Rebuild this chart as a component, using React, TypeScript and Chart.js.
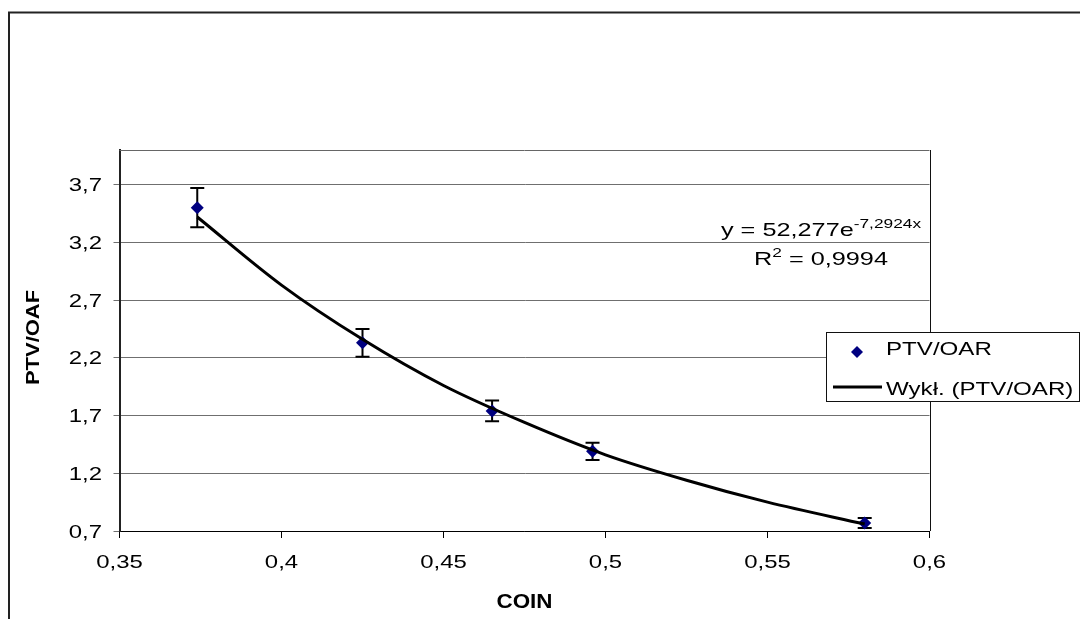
import React, { useEffect, useRef } from 'react';
import { Chart, registerables } from 'chart.js';

Chart.register(...registerables);

// ---- data ----
const pointX = [0.374, 0.425, 0.465, 0.496, 0.58];
const pointY = [3.5, 2.33, 1.74, 1.39, 0.77];
const errorY = [0.17, 0.12, 0.09, 0.075, 0.043];

const trendX = [0.374, 0.4, 0.425, 0.45, 0.475, 0.5, 0.525, 0.55, 0.58];
const trendY = [3.42, 2.83, 2.36, 1.96, 1.64, 1.36, 1.14, 0.95, 0.76];

const xTicks = [0.35, 0.4, 0.45, 0.5, 0.55, 0.6];
const yTicks = [0.7, 1.2, 1.7, 2.2, 2.7, 3.2, 3.7];

const seriesName = 'PTV/OAR';
const trendName = 'Wykł. (PTV/OAR)';
const xTitle = 'COIN';
const yTitle = 'PTV/OAF';
const eqMain = 'y = 52,277e';
const eqExp = '-7,2924x';
const r2Base = 'R';
const r2Sup = '2';
const r2Rest = ' = 0,9994';

const FAMILY = '"Liberation Sans", Arial, sans-serif';
const fmt = (v: number) => String(Math.round(v * 100) / 100).replace('.', ',');

function drawText(
  ctx: CanvasRenderingContext2D,
  s: string,
  x: number,
  y: number,
  font: string,
  align: CanvasTextAlign,
  sx: number,
  rot = 0
) {
  ctx.save();
  ctx.font = font;
  ctx.fillStyle = '#000';
  ctx.translate(x, y);
  if (rot) ctx.rotate(rot);
  ctx.scale(sx, 1);
  ctx.textAlign = align;
  ctx.textBaseline = 'alphabetic';
  ctx.fillText(s, 0, 0);
  ctx.restore();
}

function widthOf(ctx: CanvasRenderingContext2D, s: string, font: string, sx: number) {
  ctx.save();
  ctx.font = font;
  const w = ctx.measureText(s).width * sx;
  ctx.restore();
  return w;
}

const errorBarPlugin = {
  id: 'errorBars',
  beforeDatasetsDraw(chart: any) {
    const ctx = chart.ctx as CanvasRenderingContext2D;
    const xs = chart.scales.x;
    const ys = chart.scales.y;
    ctx.save();
    ctx.strokeStyle = '#000';
    ctx.lineWidth = 2;
    pointX.forEach((xv, i) => {
      const px = xs.getPixelForValue(xv);
      const top = ys.getPixelForValue(pointY[i] + errorY[i]);
      const bot = ys.getPixelForValue(pointY[i] - errorY[i]);
      ctx.beginPath();
      ctx.moveTo(px, top);
      ctx.lineTo(px, bot);
      ctx.moveTo(px - 7, top);
      ctx.lineTo(px + 7, top);
      ctx.moveTo(px - 7, bot);
      ctx.lineTo(px + 7, bot);
      ctx.stroke();
    });
    ctx.restore();
  },
};

const decorPlugin = {
  id: 'decor',
  afterDraw(chart: any) {
    const ctx = chart.ctx as CanvasRenderingContext2D;
    const area = chart.chartArea;
    const xs = chart.scales.x;
    const ys = chart.scales.y;

    // outer chart frame (partially visible)
    ctx.save();
    ctx.strokeStyle = '#222';
    ctx.lineWidth = 2;
    ctx.beginPath();
    ctx.moveTo(9, 1000);
    ctx.lineTo(9, 12.5);
    ctx.lineTo(1100, 12.5);
    ctx.stroke();
    ctx.restore();

    // plot area top / right border
    ctx.save();
    ctx.lineWidth = 1;
    ctx.strokeStyle = '#666';
    ctx.beginPath();
    ctx.moveTo(area.left, Math.round(area.top) + 0.5);
    ctx.lineTo(area.right, Math.round(area.top) + 0.5);
    ctx.stroke();
    ctx.strokeStyle = '#111';
    ctx.beginPath();
    ctx.moveTo(Math.round(area.right) + 0.5, area.top);
    ctx.lineTo(Math.round(area.right) + 0.5, area.bottom);
    ctx.stroke();
    ctx.restore();

    const tickFont = `18px ${FAMILY}`;
    // y tick labels
    yTicks.forEach((v) => {
      drawText(ctx, fmt(v), 102, ys.getPixelForValue(v) + 6.5, tickFont, 'right', 1.33);
    });
    // x tick labels
    xTicks.forEach((v) => {
      drawText(ctx, fmt(v), xs.getPixelForValue(v), 568, tickFont, 'center', 1.33);
    });

    // axis titles
    drawText(ctx, xTitle, (area.left + area.right) / 2, 608, `bold 20px ${FAMILY}`, 'center', 1.12);
    drawText(ctx, yTitle, 39, (area.top + area.bottom) / 2 - 3, `bold 18px ${FAMILY}`, 'center', 1.22, -Math.PI / 2);
    // the rotated text needs its baseline offset: redraw handled via translate below
    // (drawText rotates around the anchor; baseline offset applied in local y)

    // trendline equation
    const eqFont = `19px ${FAMILY}`;
    const supFont = `13px ${FAMILY}`;
    const sx = 1.33;
    const cx = 821;
    const w1 = widthOf(ctx, eqMain, eqFont, sx) + widthOf(ctx, eqExp, supFont, sx);
    let x1 = cx - w1 / 2;
    drawText(ctx, eqMain, x1, 236, eqFont, 'left', sx);
    x1 += widthOf(ctx, eqMain, eqFont, sx);
    drawText(ctx, eqExp, x1, 228, supFont, 'left', sx);

    const w2 =
      widthOf(ctx, r2Base, eqFont, sx) + widthOf(ctx, r2Sup, supFont, sx) + widthOf(ctx, r2Rest, eqFont, sx);
    let x2 = cx - w2 / 2;
    drawText(ctx, r2Base, x2, 265, eqFont, 'left', sx);
    x2 += widthOf(ctx, r2Base, eqFont, sx);
    drawText(ctx, r2Sup, x2, 257, supFont, 'left', sx);
    x2 += widthOf(ctx, r2Sup, supFont, sx);
    drawText(ctx, r2Rest, x2, 265, eqFont, 'left', sx);

    // legend
    ctx.save();
    ctx.fillStyle = '#fff';
    ctx.fillRect(826.5, 332.5, 253, 69);
    ctx.strokeStyle = '#111';
    ctx.lineWidth = 1;
    ctx.strokeRect(826.5, 332.5, 253, 69);
    // diamond marker
    ctx.fillStyle = '#000080';
    ctx.beginPath();
    ctx.moveTo(857, 346);
    ctx.lineTo(863, 352);
    ctx.lineTo(857, 358);
    ctx.lineTo(851, 352);
    ctx.closePath();
    ctx.fill();
    // line sample
    ctx.strokeStyle = '#000';
    ctx.lineWidth = 3;
    ctx.beginPath();
    ctx.moveTo(833, 387);
    ctx.lineTo(882, 387);
    ctx.stroke();
    ctx.restore();
    const legFont = `18px ${FAMILY}`;
    drawText(ctx, seriesName, 886, 355, legFont, 'left', 1.34);
    drawText(ctx, trendName, 886, 394.5, legFont, 'left', 1.34);
  },
};

export default function App() {
  const canvasRef = useRef<HTMLCanvasElement | null>(null);

  useEffect(() => {
    const canvas = canvasRef.current;
    if (!canvas) return;
    const chart = new Chart(canvas, {
      type: 'scatter',
      data: {
        datasets: [
          {
            label: trendName,
            data: trendX.map((x, i) => ({ x, y: trendY[i] })),
            showLine: true,
            borderColor: '#000',
            borderWidth: 3,
            pointRadius: 0,
            cubicInterpolationMode: 'monotone',
            fill: false,
          } as any,
          {
            label: seriesName,
            data: pointX.map((x, i) => ({ x, y: pointY[i] })),
            showLine: false,
            pointStyle: 'rectRot',
            pointRadius: 6.5,
            backgroundColor: '#000080',
            borderColor: '#000080',
            borderWidth: 0,
          } as any,
        ],
      },
      options: {
        animation: false,
        responsive: true,
        maintainAspectRatio: false,
        events: [],
        layout: { padding: { left: 0, top: 150, right: 150.5, bottom: 0 } },
        plugins: { legend: { display: false }, tooltip: { enabled: false } },
        scales: {
          x: {
            type: 'linear',
            min: 0.35,
            max: 0.6,
            afterBuildTicks: (s: any) => {
              s.ticks = xTicks.map((v) => ({ value: v }));
            },
            afterFit: (s: any) => {
              s.height = 88;
            },
            ticks: { display: false },
            grid: { drawOnChartArea: false, drawTicks: true, tickLength: 7, color: '#000', lineWidth: 1 },
            border: { color: '#000', width: 1 },
          },
          y: {
            type: 'linear',
            min: 0.7,
            max: 4.0,
            afterBuildTicks: (s: any) => {
              s.ticks = yTicks.map((v) => ({ value: v }));
            },
            afterFit: (s: any) => {
              s.width = 119.5;
            },
            ticks: { display: false },
            grid: { color: '#6f6f6f', lineWidth: 1, drawTicks: true, tickLength: 6 },
            border: { color: '#222', width: 2 },
          },
        },
      } as any,
      plugins: [errorBarPlugin, decorPlugin],
    });
    return () => chart.destroy();
  }, []);

  return (
    <div style={{ position: 'absolute', left: 0, top: 0, width: 1080, height: 619, background: '#fff' }}>
      <canvas ref={canvasRef} />
    </div>
  );
}
